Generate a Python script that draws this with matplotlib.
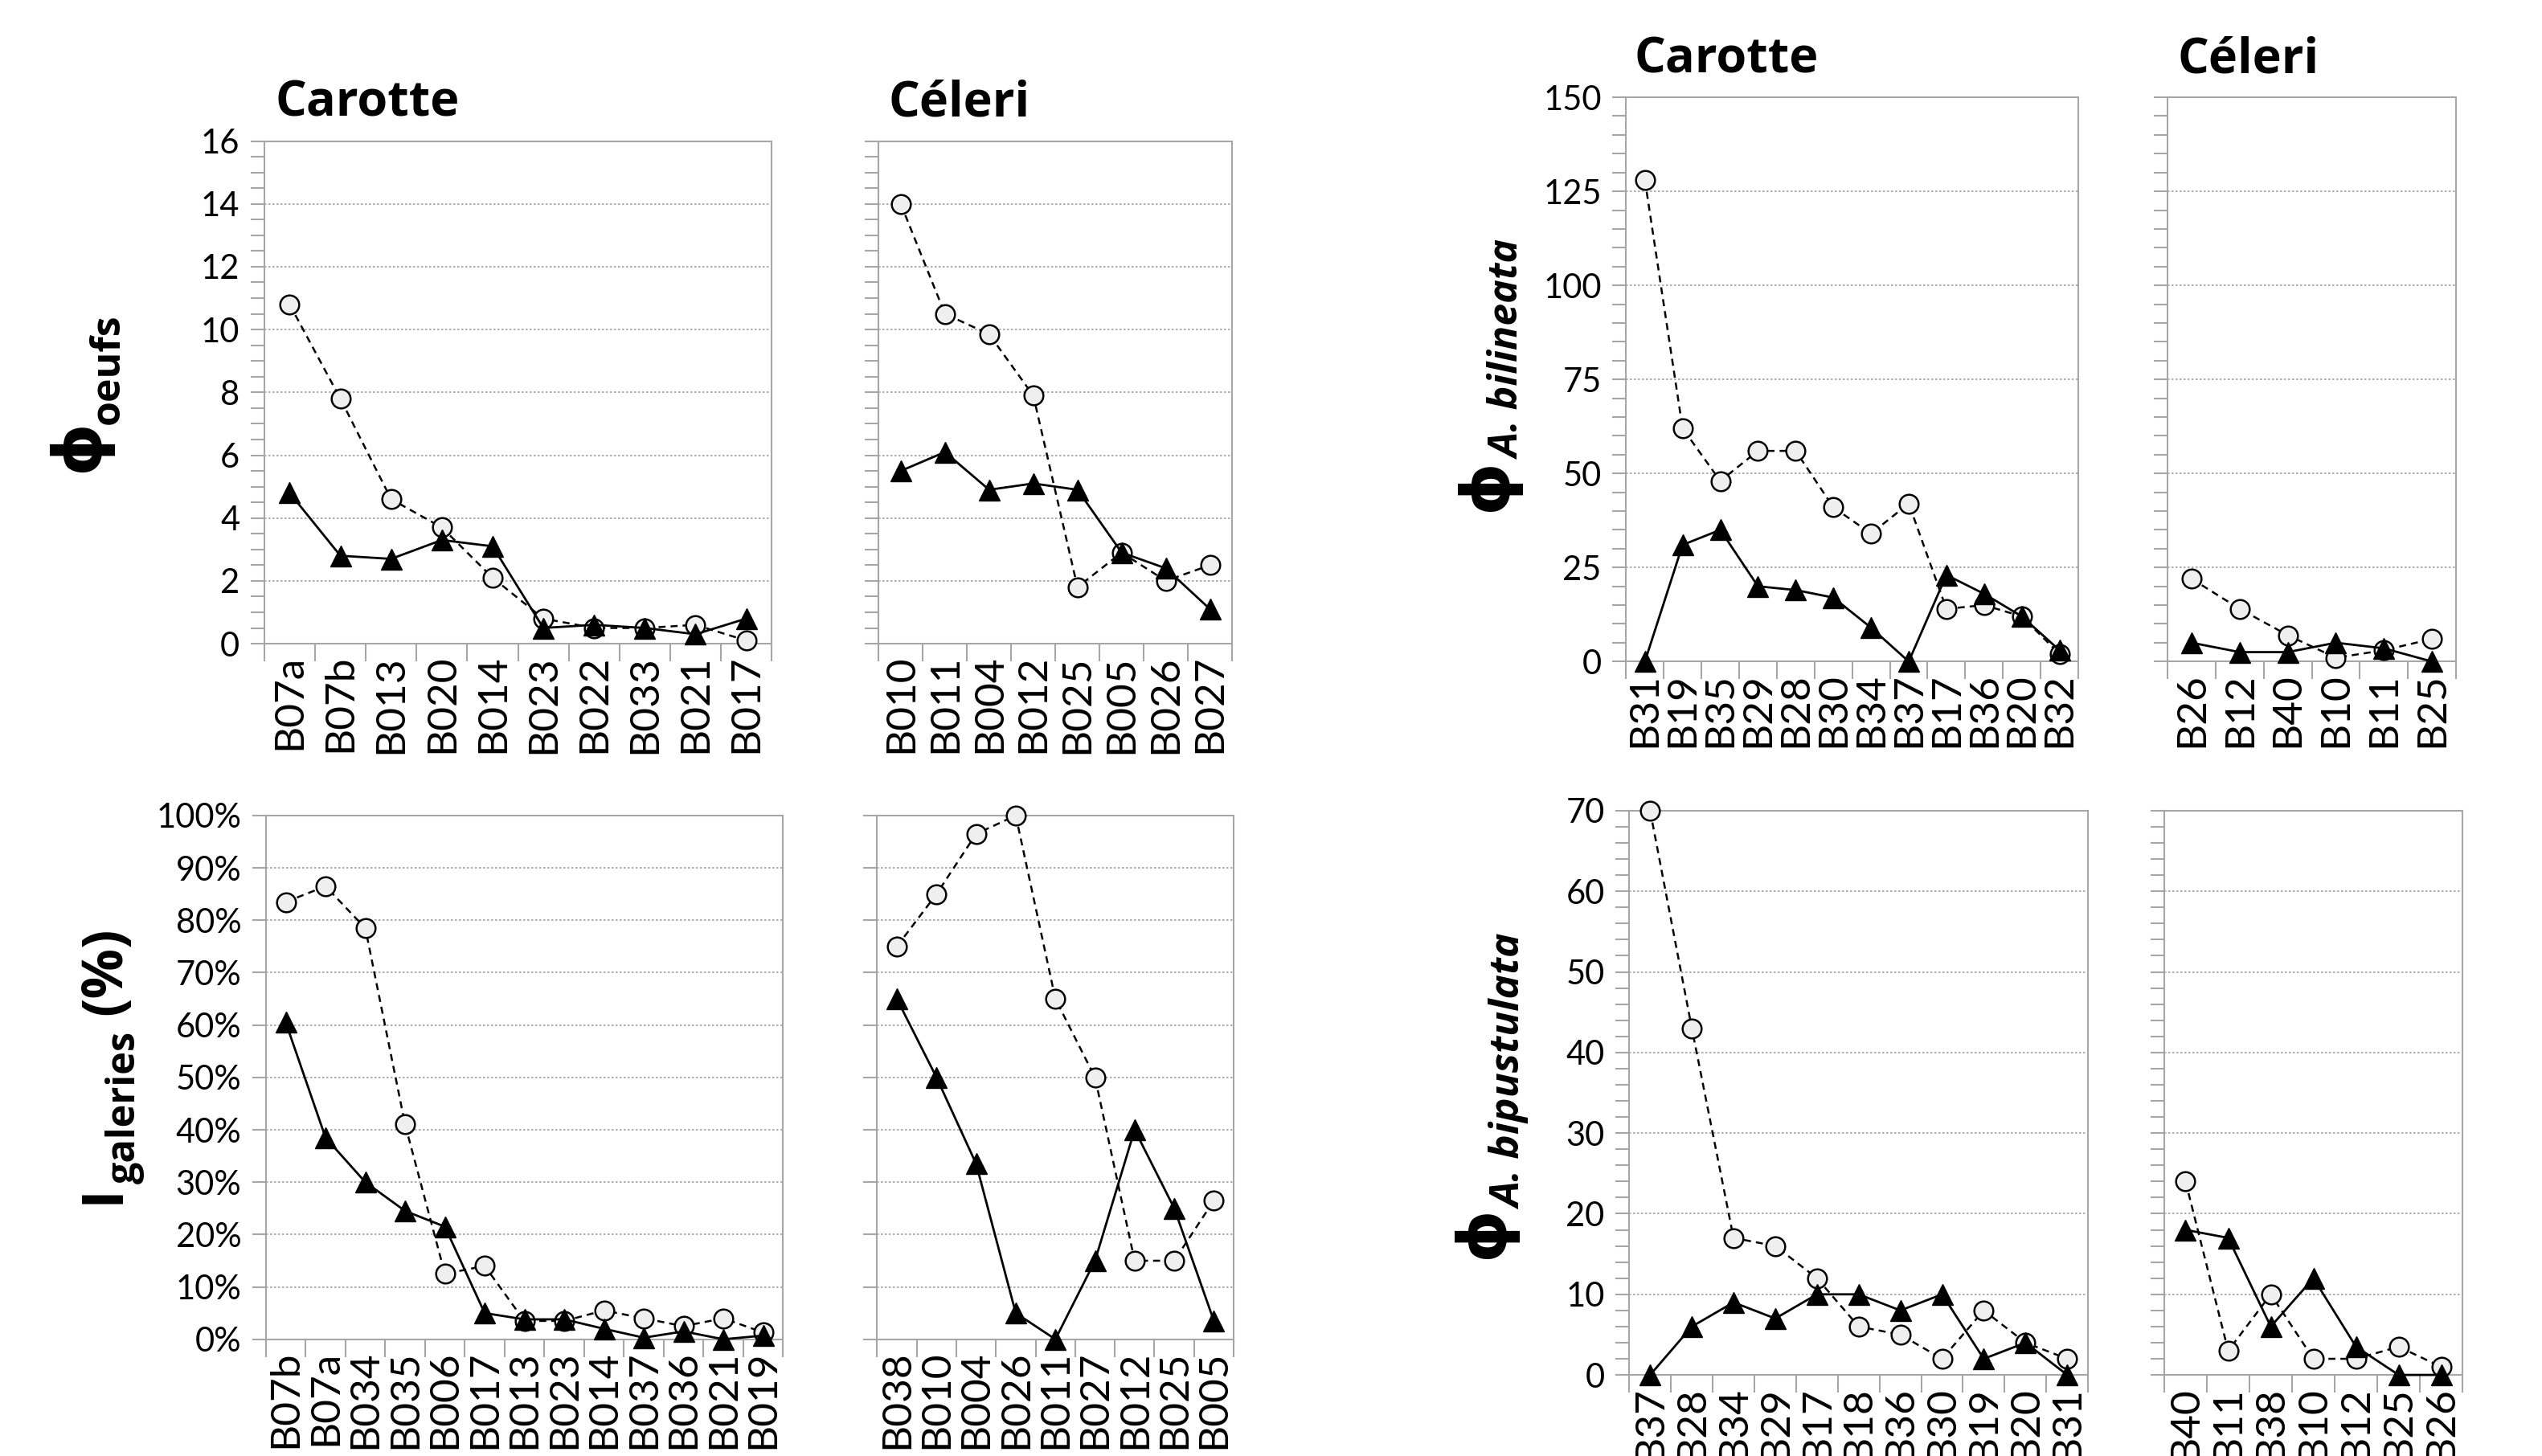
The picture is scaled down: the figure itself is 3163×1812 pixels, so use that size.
import numpy as np
import matplotlib
matplotlib.use('Agg')
import matplotlib.pyplot as plt
from matplotlib.ticker import MultipleLocator, FixedLocator, PercentFormatter, NullFormatter

# ---------------- data ----------------
oeufs_car_cats = ['B07a', 'B07b', 'B013', 'B020', 'B014', 'B023', 'B022', 'B033', 'B021', 'B017']
oeufs_car_circ = [10.8, 7.8, 4.6, 3.7, 2.1, 0.8, 0.5, 0.5, 0.6, 0.1]
oeufs_car_tri = [4.8, 2.8, 2.7, 3.3, 3.1, 0.5, 0.6, 0.5, 0.3, 0.8]

oeufs_cel_cats = ['B010', 'B011', 'B004', 'B012', 'B025', 'B005', 'B026', 'B027']
oeufs_cel_circ = [14.0, 10.5, 9.85, 7.9, 1.8, 2.9, 2.0, 2.5]
oeufs_cel_tri = [5.5, 6.1, 4.9, 5.1, 4.9, 2.9, 2.4, 1.1]

gal_car_cats = ['B07b', 'B07a', 'B034', 'B035', 'B006', 'B017', 'B013', 'B023', 'B014', 'B037', 'B036', 'B021', 'B019']
gal_car_circ = [83.5, 86.5, 78.5, 41, 12.5, 14, 3.5, 3.5, 5.5, 4, 2.5, 4, 1.3]
gal_car_tri = [60.5, 38.5, 30, 24.5, 21.5, 5, 3.8, 3.8, 2, 0.3, 1.5, 0, 0.7]

gal_cel_cats = ['B038', 'B010', 'B004', 'B026', 'B011', 'B027', 'B012', 'B025', 'B005']
gal_cel_circ = [75, 85, 96.5, 100, 65, 50, 15, 15, 26.5]
gal_cel_tri = [65, 50, 33.5, 5, 0, 15, 40, 25, 3.5]

bil_car_cats = ['B31', 'B19', 'B35', 'B29', 'B28', 'B30', 'B34', 'B37', 'B17', 'B36', 'B20', 'B32']
bil_car_circ = [128, 62, 48, 56, 56, 41, 34, 42, 14, 15, 12, 2]
bil_car_tri = [0, 31, 35, 20, 19, 17, 9, 0, 23, 18, 12, 3]

bil_cel_cats = ['B26', 'B12', 'B40', 'B10', 'B11', 'B25']
bil_cel_circ = [22, 14, 7, 1, 3, 6]
bil_cel_tri = [5, 2.5, 2.5, 5, 3.5, 0]

bip_car_cats = ['B37', 'B28', 'B34', 'B29', 'B17', 'B18', 'B36', 'B30', 'B19', 'B20', 'B31']
bip_car_circ = [70, 43, 17, 16, 12, 6, 5, 2, 8, 4, 2]
bip_car_tri = [0, 6, 9, 7, 10, 10, 8, 10, 2, 4, 0]

bip_cel_cats = ['B40', 'B11', 'B38', 'B10', 'B12', 'B25', 'B26']
bip_cel_circ = [24, 3, 10, 2, 2, 3.5, 1]
bip_cel_tri = [18, 17, 6, 12, 3.5, 0, 0]

# ---------------- figure ----------------
W, H = 1568.0, 898.0          # layout reference units (shrunk view)
FW, FH = 3163.0, 1812.0       # full pixel size
fig = plt.figure(figsize=(31.63, 18.12), dpi=100)

SPINE = '#a6a6a6'
TICKFONT = ['Lato', 'DejaVu Sans']
XFONT = ['Liberation Sans Narrow', 'Lato', 'DejaVu Sans']
TFONT = ['Open Sans', 'DejaVu Sans']


def rect(l, r, t, b):
    return [l / W, 1 - b / H, (r - l) / W, (b - t) / H]


def panel(rc, cats, circ, tri, ymax, major, minor, show_y, fmt=None):
    ax = fig.add_axes(rc)
    n = len(cats)
    x = np.arange(n)
    ax.plot(x, circ, ls=(0, (3.5, 2.5)), color='black', lw=1.8, marker='o', ms=17,
            mfc='#efefef', mec='black', mew=1.8, zorder=3, clip_on=False)
    ax.plot(x, tri, ls='-', color='black', lw=2.0, marker='^', ms=19,
            mfc='black', mec='black', zorder=4, clip_on=False)
    ax.set_xlim(-0.5, n - 0.5)
    ax.set_ylim(0, ymax)
    for s in ax.spines.values():
        s.set_color(SPINE)
        s.set_linewidth(1.5)
    ax.set_axisbelow(True)
    ax.xaxis.set_major_locator(FixedLocator(np.arange(-0.5, n, 1.0)))
    ax.xaxis.set_major_formatter(NullFormatter())
    ax.xaxis.set_minor_locator(FixedLocator(x))
    ax.set_xticklabels(cats, minor=True, rotation=90, fontsize=37, family=XFONT)
    ax.tick_params(axis='x', which='major', length=16, width=1.5, color=SPINE, direction='out')
    ax.tick_params(axis='x', which='minor', length=0, pad=10)
    ax.yaxis.set_major_locator(MultipleLocator(major))
    ax.yaxis.set_minor_locator(MultipleLocator(minor) if minor else FixedLocator([]))
    ax.tick_params(axis='y', which='both', length=12, width=1.5, color=SPINE, direction='out',
                   labelsize=30, pad=10)
    if fmt is not None:
        ax.yaxis.set_major_formatter(fmt)
    if not show_y:
        ax.yaxis.set_major_formatter(NullFormatter())
    for lab in ax.get_yticklabels():
        lab.set_family(TICKFONT)
    ax.grid(axis='y', which='major', color='#a0a0a0', ls=(0, (1.5, 1.5)), lw=1.2)
    return ax


panel(rect(163, 476, 87, 397), oeufs_car_cats, oeufs_car_circ, oeufs_car_tri, 16, 2, 0.5, True)
panel(rect(542, 760, 87, 397), oeufs_cel_cats, oeufs_cel_circ, oeufs_cel_tri, 16, 2, 0.5, False)
panel(rect(164, 483, 503, 826), gal_car_cats, gal_car_circ, gal_car_tri, 100, 10, None, True,
      PercentFormatter(xmax=100, decimals=0))
panel(rect(541, 761, 503, 826), gal_cel_cats, gal_cel_circ, gal_cel_tri, 100, 10, None, False)
panel(rect(1003, 1282, 60, 408), bil_car_cats, bil_car_circ, bil_car_tri, 150, 25, 5, True)
panel(rect(1337, 1515, 60, 408), bil_cel_cats, bil_cel_circ, bil_cel_tri, 150, 25, 5, False)
panel(rect(1005, 1288, 500, 848), bip_car_cats, bip_car_circ, bip_car_tri, 70, 10, 2, True)
panel(rect(1335, 1519, 500, 848), bip_cel_cats, bip_cel_circ, bip_cel_tri, 70, 10, 2, False)

# titles
for txt, xx, yy in [('Carotte', 170, 64), ('Céleri', 548, 64), ('Carotte', 1008, 37), ('Céleri', 1343, 37)]:
    fig.text(xx / W, 1 - yy / H, txt, fontsize=44, fontweight='bold', family=TFONT,
             ha='left', va='center')


# y labels (full-pixel positions), built from pieces
def vtext(xp, yp, s, size, va='baseline', style='normal', family=TFONT):
    fig.text(xp / FW, 1 - yp / FH, s, fontsize=size, fontweight='bold', fontstyle=style,
             family=family, rotation=90, rotation_mode='anchor', ha='center', va=va)


PHI = '\u03d5'
PHIFONT = ['DejaVu Sans']
PHISIZE = 60
# Phi oeufs
vtext(98, 554, PHI, PHISIZE, va='center', family=PHIFONT)
vtext(148, 459, 'oeufs', 36)
# I galeries (%)
vtext(148, 1486, 'I', 52)
vtext(168, 1378, 'galeries', 35)
vtext(150, 1208, '(%)', 50)
# Phi A. bilineata
vtext(1851, 603, PHI, PHISIZE, va='center', family=PHIFONT)
vtext(1891, 435, 'A. bilineata', 36, style='italic')
# Phi A. bipustulata
vtext(1847, 1533, PHI, PHISIZE, va='center', family=PHIFONT)
vtext(1893, 1334, 'A. bipustulata', 37, style='italic')

fig.savefig('out.png', dpi=100, facecolor='white')
